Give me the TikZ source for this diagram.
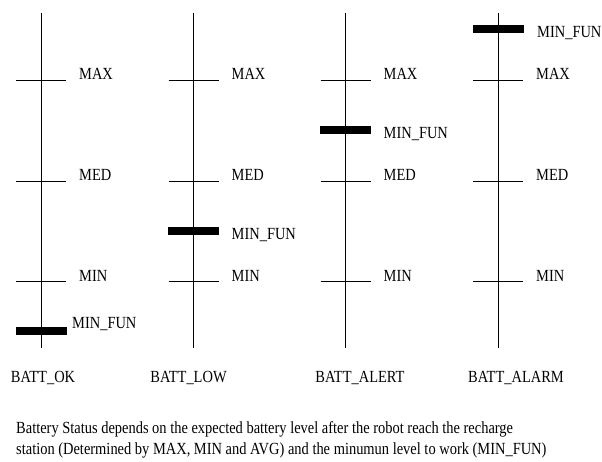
\documentclass[tikz,border=0pt]{standalone}
\usepackage{fontspec}
\setmainfont{Liberation Serif}[FakeStretch=0.85]
\usepackage{tikz}
\tikzset{
  scaleline/.style={black,line width=0.8pt},
  tickline/.style={black,line width=0.8pt},
  funbar/.style={black,fill=black},
  levellabel/.style={anchor=base west,inner sep=0pt,font=\fontsize{17}{20}\selectfont},
  statelabel/.style={anchor=base,inner sep=0pt,font=\fontsize{17}{20}\selectfont},
  notelabel/.style={anchor=base west,inner sep=0pt,font=\fontsize{17}{20}\selectfont}
}
% #1 name, #2 x of the scale, #3 y of the MIN_FUN bar, #4/#5 MIN_FUN label position
\newcommand{\drawbattscale}[5]{
  \begin{scope}[shift={(#2,0)}]
  \coordinate (#1-top) at (0,13);
  \coordinate (#1-bot) at (0,348);
  \draw[scaleline] (#1-top) -- (#1-bot);
  \foreach \lvl/\y in {MAX/80,MED/181,MIN/281}{
    \draw[tickline] (-25,\y) -- (25,\y);
    \node[levellabel] (#1-\lvl) at (38,\y) {\lvl};
  }
  \filldraw[funbar] (-25,#3-3.5) rectangle (25,#3+3.5);
  \node[levellabel] (#1-fun) at (#4,#5) {MIN\_FUN};
  \end{scope}
}

\begin{document}
\begin{tikzpicture}[x=1pt,y=-1pt]
      \useasboundingbox (0,0) rectangle (602,462);

      \drawbattscale{ok}{41}{331}{31}{328.5};
      \drawbattscale{low}{193.5}{231}{38}{239.5};
      \drawbattscale{alert}{345.5}{130}{38}{138.5};
      \drawbattscale{alarm}{498}{29}{39}{37.5};

      \node[statelabel] (okname) at (43,382.5) {BATT\_OK};
      \node[statelabel] (lowname) at (188.5,382.5) {BATT\_LOW};
      \node[statelabel] (alertname) at (360,382.5) {BATT\_ALERT};
      \node[statelabel] (alarmname) at (516,382.5) {BATT\_ALARM};

      \node[notelabel] (note1) at (16,433) {Battery Status depends on the expected battery level after the robot reach the recharge};
      \node[notelabel] (note2) at (16,454) {station (Determined by MAX, MIN and AVG) and the minumun level to work (MIN\_FUN)};
    \end{tikzpicture}
\end{document}
